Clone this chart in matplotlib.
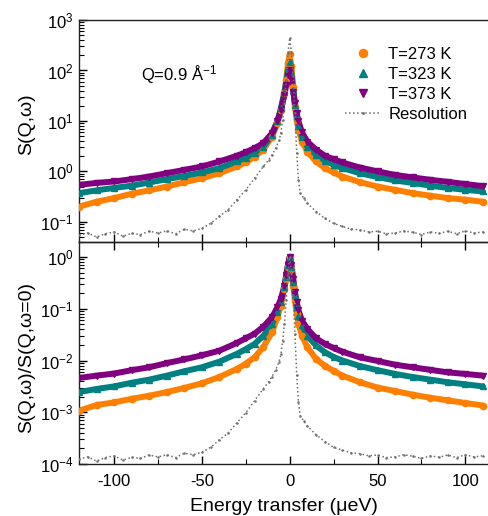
import matplotlib
matplotlib.use("Agg")
import matplotlib.pyplot as plt
from matplotlib.ticker import LogLocator, LogFormatterMathtext, MultipleLocator, NullFormatter

plt.rcParams['font.family'] = ['Liberation Sans', 'DejaVu Sans']
plt.rcParams['mathtext.fontset'] = 'custom'
plt.rcParams['mathtext.rm'] = 'Liberation Sans'
plt.rcParams['mathtext.it'] = 'Liberation Sans'
plt.rcParams['mathtext.default'] = 'regular'
plt.rcParams['axes.unicode_minus'] = False

# ---------------- data ----------------
energy = [-120, -110, -100, -90, -80, -70, -60, -50, -40, -30, -25, -20, -15, -10, -7, -5, -3, -2, -1, 0,
          1, 2, 3, 4, 5, 7, 10, 15, 20, 25, 30, 40, 50, 60, 70, 80, 90, 100, 110]

s273 = [0.20, 0.25, 0.295, 0.36, 0.42, 0.50, 0.61, 0.73, 0.92, 1.25, 1.51, 1.95, 2.69, 4.9, 8.9, 16.6, 35.5, 64.6, 138, 210,
        120, 47.9, 19.1, 10.5, 6.6, 3.9, 2.45, 1.57, 1.16, 0.95, 0.79, 0.61, 0.50, 0.43, 0.37, 0.33, 0.295, 0.275, 0.25]
s323 = [0.37, 0.42, 0.47, 0.52, 0.60, 0.70, 0.81, 0.95, 1.16, 1.57, 1.86, 2.34, 3.09, 5.25, 9.8, 17.8, 38, 60, 102, 148,
        87, 40.7, 20.9, 12.3, 7.9, 4.9, 3.09, 2.14, 1.62, 1.35, 1.16, 0.92, 0.77, 0.66, 0.59, 0.52, 0.47, 0.43, 0.40]
s373 = [0.54, 0.59, 0.63, 0.70, 0.79, 0.92, 1.07, 1.25, 1.57, 2.04, 2.4, 2.88, 3.63, 5.75, 9.8, 16.6, 32.4, 51.3, 81, 102,
        69, 38, 22.4, 14.1, 9.8, 5.9, 3.9, 2.69, 2.04, 1.74, 1.50, 1.19, 1.0, 0.85, 0.76, 0.68, 0.62, 0.56, 0.51]

n273 = [1.07e-3, 1.38e-3, 1.55e-3, 1.82e-3, 2.09e-3, 2.45e-3, 2.95e-3, 3.63e-3, 4.8e-3, 6.9e-3, 8.7e-3, 1.15e-2, 1.82e-2,
        3.55e-2, 6.9e-2, 0.115, 0.245, 0.38, 0.65, 1.0, 0.59, 0.28, 0.145, 0.079, 0.051, 0.030, 0.0182, 0.0107, 7.9e-3,
        6.3e-3, 5.1e-3, 3.8e-3, 3.0e-3, 2.57e-3, 2.19e-3, 1.91e-3, 1.70e-3, 1.51e-3, 1.35e-3]
n323 = [2.45e-3, 2.82e-3, 3.16e-3, 3.72e-3, 4.27e-3, 5.1e-3, 6.2e-3, 7.4e-3, 9.5e-3, 1.35e-2, 1.66e-2, 2.09e-2, 3.0e-2,
        5.1e-2, 0.087, 0.135, 0.263, 0.41, 0.69, 1.0, 0.65, 0.33, 0.182, 0.107, 0.072, 0.048, 0.030, 0.0195, 0.0145,
        0.0117, 0.0100, 7.8e-3, 6.5e-3, 5.5e-3, 4.8e-3, 4.27e-3, 3.8e-3, 3.47e-3, 3.16e-3]
n373 = [4.6e-3, 5.1e-3, 5.6e-3, 6.5e-3, 7.4e-3, 8.9e-3, 1.05e-2, 1.26e-2, 1.55e-2, 2.19e-2, 2.69e-2, 3.3e-2, 4.5e-2,
        6.9e-2, 0.107, 0.155, 0.28, 0.45, 0.69, 1.0, 0.69, 0.38, 0.21, 0.135, 0.093, 0.059, 0.041, 0.0269, 0.0209,
        0.0174, 0.0148, 0.0115, 9.8e-3, 8.3e-3, 7.4e-3, 6.6e-3, 5.9e-3, 5.5e-3, 5.1e-3]

energy_res = [-120, -115, -110, -105, -100, -95, -90, -85, -80, -75, -70, -65, -60, -55, -50, -45, -40, -35, -30, -25,
              -20, -15, -12, -10, -8, -6, -5, -4, -3, -2, -1, 0, 1, 2, 3, 4, 5, 6, 8, 10, 15, 20, 25, 30, 35, 40,
              45, 50, 55, 60, 65, 70, 75, 80, 85, 90, 95, 100, 105, 110]
res_top = [0.054, 0.060, 0.050, 0.058, 0.063, 0.052, 0.059, 0.056, 0.065, 0.060, 0.066, 0.058, 0.071, 0.066, 0.074,
           0.093, 0.129, 0.174, 0.275, 0.43, 0.73, 1.25, 1.70, 2.14, 2.88, 4.17, 5.75, 10.5, 22.4, 64.6, 219, 437,
           219, 75.9, 14.1, 2.29, 0.68, 0.37, 0.295, 0.234, 0.160, 0.117, 0.093, 0.081, 0.072, 0.069, 0.063, 0.065,
           0.058, 0.060, 0.066, 0.062, 0.056, 0.063, 0.059, 0.065, 0.058, 0.066, 0.060, 0.063]
res_norm = [1.24e-4, 1.37e-4, 1.14e-4, 1.33e-4, 1.44e-4, 1.19e-4, 1.35e-4, 1.28e-4, 1.49e-4, 1.37e-4, 1.51e-4,
            1.33e-4, 1.62e-4, 1.51e-4, 1.69e-4, 2.1e-4, 2.95e-4, 4.0e-4, 6.3e-4, 9.8e-4, 1.67e-3, 2.86e-3, 3.9e-3,
            4.9e-3, 6.6e-3, 9.5e-3, 1.32e-2, 2.4e-2, 5.1e-2, 0.148, 0.50, 1.0, 0.50, 0.174, 3.2e-2, 5.2e-3, 1.56e-3,
            8.5e-4, 6.8e-4, 5.4e-4, 3.7e-4, 2.7e-4, 2.1e-4, 1.85e-4, 1.65e-4, 1.58e-4, 1.44e-4, 1.49e-4, 1.33e-4,
            1.37e-4, 1.51e-4, 1.42e-4, 1.28e-4, 1.44e-4, 1.35e-4, 1.49e-4, 1.33e-4, 1.51e-4, 1.37e-4, 1.44e-4]

labels = ['T=273 K', 'T=323 K', 'T=373 K']
colors = ['#ff8000', '#008080', '#800080']
markers = ['o', '^', 'v']

# ---------------- figure ----------------
fig = plt.figure(figsize=(4.89, 5.16), dpi=100)
W, H = 489, 516
ax1 = fig.add_axes([79 / W, (H - 242) / H, 410 / W, 222 / H])
ax2 = fig.add_axes([79 / W, (H - 464) / H, 410 / W, 222 / H])
ax2.patch.set_visible(False)


def draw(ax, series, res):
    for s, c, m, lab in zip(series, colors, markers, labels):
        ax.plot(energy, s, '-', color=c, lw=4.3, zorder=2, solid_capstyle='round')
        ax.plot(energy, s, m, color=c, ms=4.5, ls='none', label=lab, zorder=3)
    ax.plot(energy_res, res, ls=':', color='#707070', lw=1.1, marker='.', ms=1.6,
            label='Resolution', zorder=4)
    ax.set_yscale('log')
    ax.set_xlim(-120, 113.5)
    ax.xaxis.set_major_locator(MultipleLocator(50))
    ax.xaxis.set_minor_locator(MultipleLocator(25))
    ax.yaxis.set_major_locator(LogLocator(base=10, numticks=20))
    ax.yaxis.set_minor_locator(LogLocator(base=10, subs=[2, 3, 4, 5, 6, 7, 8, 9], numticks=20))
    ax.yaxis.set_major_formatter(LogFormatterMathtext())
    ax.yaxis.set_minor_formatter(NullFormatter())
    ax.spines['right'].set_visible(False)
    for sp in ax.spines.values():
        sp.set_linewidth(1.0)
        sp.set_color('#222222')
    ax.tick_params(axis='both', which='major', direction='in', length=6, width=1.0, labelsize=12)
    ax.tick_params(axis='both', which='minor', direction='in', length=3.5, width=0.8)
    ax.tick_params(axis='y', which='major', pad=4)
    ax.tick_params(axis='y', right=False, which='both')


draw(ax1, [s273, s323, s373], res_top)
draw(ax2, [n273, n323, n373], res_norm)

ax1.set_ylim(0.0398, 1000)
ax2.set_ylim(1e-4, 1.95)

ax1.tick_params(axis='x', which='both', bottom=True, top=False, labelbottom=False)
ax2.tick_params(axis='x', which='both', bottom=True, top=True, labelbottom=True)
ax2.tick_params(axis='x', which='major', pad=7)

ax1.set_ylabel('S(Q,ω)', fontsize=14)
ax2.set_ylabel('S(Q,ω)/S(Q,ω=0)', fontsize=14)
ax1.yaxis.set_label_coords(-0.108, 0.53)
ax2.yaxis.set_label_coords(-0.108, 0.48)
ax2.set_xlabel('Energy transfer (μeV)', fontsize=14, labelpad=7)

ax1.text(0.152, 0.755, 'Q=0.9 Å$^{-1}$', transform=ax1.transAxes, fontsize=12,
         ha='left', va='center')

leg = ax1.legend(loc='upper left', bbox_to_anchor=((345 - 79) / 410, (242 - 47) / 222),
                 frameon=False, fontsize=12, borderpad=0, borderaxespad=0,
                 handlelength=2.1, handletextpad=0.5, labelspacing=0.3, markerscale=1.3)

fig.savefig('out.png', dpi=100)
